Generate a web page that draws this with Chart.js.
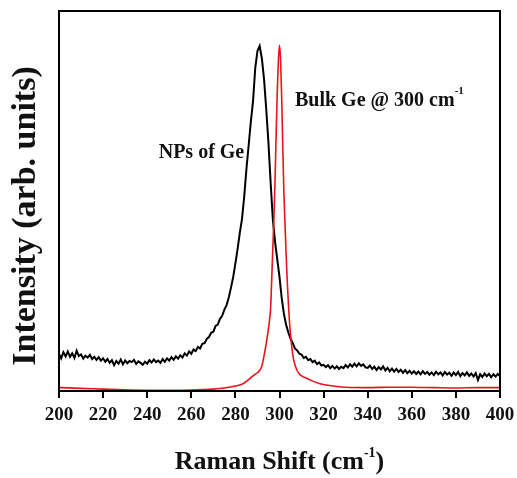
<!DOCTYPE html>
<html>
<head>
<meta charset="utf-8">
<script src="https://cdn.jsdelivr.net/npm/chart.js@4.4.1/dist/chart.umd.min.js"></script>
<style>
  html, body { margin: 0; padding: 0; background: #fff; }
  canvas { display: block; }
</style>
</head>
<body>
<canvas id="ramanChart" width="517" height="478"></canvas>
<script>
const xTicks = [200, 220, 240, 260, 280, 300, 320, 340, 360, 380, 400];

// NPs of Ge (black), read every 1 cm-1
const npShift = [
  200, 201, 202, 203, 204, 205, 206, 207, 208, 209, 210, 211, 212, 213, 214, 215, 216, 217, 218, 219,
  220, 221, 222, 223, 224, 225, 226, 227, 228, 229, 230, 231, 232, 233, 234, 235, 236, 237, 238, 239,
  240, 241, 242, 243, 244, 245, 246, 247, 248, 249, 250, 251, 252, 253, 254, 255, 256, 257, 258, 259,
  260, 261, 262, 263, 264, 265, 266, 267, 268, 269, 270, 271, 272, 273, 274, 275, 276, 277, 278, 279,
  280, 281, 282, 283, 284, 285, 286, 287, 288, 289, 290, 291, 292, 293, 294, 295, 296, 297, 298, 299,
  300, 301, 302, 303, 304, 305, 306, 307, 308, 309, 310, 311, 312, 313, 314, 315, 316, 317, 318, 319,
  320, 321, 322, 323, 324, 325, 326, 327, 328, 329, 330, 331, 332, 333, 334, 335, 336, 337, 338, 339,
  340, 341, 342, 343, 344, 345, 346, 347, 348, 349, 350, 351, 352, 353, 354, 355, 356, 357, 358, 359,
  360, 361, 362, 363, 364, 365, 366, 367, 368, 369, 370, 371, 372, 373, 374, 375, 376, 377, 378, 379,
  380, 381, 382, 383, 384, 385, 386, 387, 388, 389, 390, 391, 392, 393, 394, 395, 396, 397, 398, 399,
  400
];
const npIntensity = [
  9.8, 8.6, 10.2, 9.1, 10.4, 9.0, 9.9, 8.7, 10.6, 9.2, 9.6, 8.5, 9.3, 8.8, 9.5, 8.4, 9.0, 8.2, 8.9, 8.0,
  8.6, 7.7, 8.4, 7.4, 8.1, 6.8, 7.9, 7.2, 8.3, 7.0, 8.0, 7.3, 7.9, 7.6, 8.2, 7.1, 7.8, 7.4, 6.9, 7.7,
  7.2, 8.1, 7.5, 8.3, 7.6, 8.0, 7.4, 8.4, 7.7, 8.6, 8.0, 8.9, 8.2, 9.1, 8.5, 9.4, 8.8, 9.9, 9.3, 10.4,
  9.8, 10.9, 10.5, 11.6, 11.2, 12.4, 12.6, 13.7, 14.2, 15.3, 15.6, 17.1, 17.5, 19.0, 19.8, 21.4, 22.6, 24.6, 27.2, 30.0,
  33.6, 37.4, 41.6, 45.3, 51.2, 58.4, 64.6, 70.8, 76.3, 85.0, 89.5, 90.8, 87.5, 82.0, 74.0, 65.2, 54.6, 45.0, 39.2, 34.6,
  30.0, 24.5, 20.3, 17.4, 15.4, 13.8, 12.6, 11.2, 10.7, 9.8, 9.6, 8.7, 9.0, 8.1, 8.4, 7.6, 8.0, 7.1, 7.5, 6.7,
  6.9, 6.3, 6.8, 6.0, 6.6, 5.9, 6.5, 5.8, 6.4, 6.0, 6.8, 6.2, 7.0, 6.4, 7.2, 6.5, 7.3, 6.6, 7.0, 6.2,
  6.1, 6.7, 5.8, 6.4, 5.5, 6.3, 5.7, 6.5, 5.4, 6.1, 5.2, 5.9, 5.1, 5.8, 5.0, 5.6, 4.8, 5.5, 4.7, 5.3,
  4.6, 5.2, 4.5, 5.1, 4.4, 5.2, 4.5, 5.0, 4.3, 4.9, 4.2, 5.1, 4.4, 4.9, 4.1, 5.0, 4.3, 4.8, 4.0, 4.9,
  4.2, 5.0, 3.9, 4.7, 4.1, 4.9, 4.0, 4.6, 3.8, 4.7, 2.9, 4.4, 3.7, 4.6, 3.9, 4.5, 3.6, 4.4, 3.8, 4.5,
  3.9
];

// Bulk Ge (red)
const bulkShift = [
  200, 210, 220, 230, 240, 250, 260, 265, 270, 275, 280, 282, 284, 286, 288, 290, 291, 292, 293, 294,
  295, 295.5, 296, 296.5, 297, 297.5, 298, 298.5, 299, 299.5, 300, 300.5, 301, 301.5, 302, 302.5, 303, 303.5, 304, 304.5,
  305, 305.5, 306, 307, 308, 309, 310, 312, 315, 318, 322, 326, 330, 340, 350, 360, 370, 380, 390, 400
];
const bulkIntensity = [
  0.9, 0.7, 0.5, 0.3, 0.2, 0.2, 0.25, 0.35, 0.5, 0.8, 1.3, 1.6, 2.1, 3.0, 4.0, 4.8, 5.4, 6.6, 9.3, 12.6,
  16.5, 18.8, 22, 30, 38, 46, 56, 68, 79, 87, 91, 87, 77, 64, 52, 44, 36, 29, 23.5, 18.5,
  14.8, 12, 9.6, 6.9, 5.4, 4.5, 4.0, 3.4, 2.6, 2.0, 1.5, 1.2, 1.0, 0.9, 1.0, 1.0, 0.9, 0.8, 0.9, 0.9
];

const serif = "'Liberation Serif', 'Times New Roman', serif";

function toPoints(xs, ys) {
  return xs.map((x, i) => ({ x: x, y: ys[i] }));
}

// text with a superscript part, e.g. "cm" + "-1"
function drawSup(c, parts, x, y, align) {
  let total = 0;
  parts.forEach(p => { c.font = p.font; total += c.measureText(p.text).width; });
  let cx = align === 'center' ? x - total / 2 : (align === 'right' ? x - total : x);
  parts.forEach(p => {
    c.font = p.font;
    c.fillText(p.text, cx, y + (p.dy || 0));
    cx += c.measureText(p.text).width;
  });
}

const framePlugin = {
  id: 'frame',
  afterDraw(chart) {
    const c = chart.ctx;
    const a = chart.chartArea;
    const xs = chart.scales.x;
    const ys = chart.scales.y;
    c.save();
    c.strokeStyle = '#000';
    c.lineWidth = 2;
    c.strokeRect(a.left, a.top, a.right - a.left, a.bottom - a.top);

    c.fillStyle = '#111';
    c.textBaseline = 'alphabetic';
    c.textAlign = 'left';

    // x title
    drawSup(c, [
      { text: 'Raman Shift (cm', font: 'bold 26px ' + serif },
      { text: '-1', font: 'bold 14px ' + serif, dy: -12 },
      { text: ')', font: 'bold 26px ' + serif }
    ], (a.left + a.right) / 2, 469, 'center');

    // y title
    c.save();
    c.translate(35, 216);
    c.rotate(-Math.PI / 2);
    c.font = 'bold 34px ' + serif;
    c.textAlign = 'center';
    c.fillText('Intensity (arb. units)', 0, 0);
    c.restore();

    // annotations
    drawSup(c, [
      { text: 'Bulk Ge @ 300 cm', font: 'bold 20px ' + serif },
      { text: '-1', font: 'bold 11px ' + serif, dy: -12 }
    ], xs.getPixelForValue(307), ys.getPixelForValue(75), 'left');
    drawSup(c, [
      { text: 'NPs of Ge', font: 'bold 20px ' + serif }
    ], xs.getPixelForValue(284), ys.getPixelForValue(61.2), 'right');
    c.restore();
  }
};

const ctx = document.getElementById('ramanChart').getContext('2d');
const ramanChart = new Chart(ctx, {
  type: 'line',
  data: {
    datasets: [{
      label: 'NPs of Ge',
      data: toPoints(npShift, npIntensity),
      borderColor: '#000',
      borderWidth: 2,
      pointRadius: 0,
      tension: 0,
      order: 2
    }, {
      label: 'Bulk Ge',
      data: toPoints(bulkShift, bulkIntensity),
      borderColor: '#e8141c',
      borderWidth: 1.6,
      pointRadius: 0,
      cubicInterpolationMode: 'monotone',
      order: 1
    }]
  },
  options: {
    responsive: false,
    animation: false,
    devicePixelRatio: 1,
    layout: { padding: { left: 0, top: 11, right: 17, bottom: 0 } },
    plugins: {
      legend: { display: false },
      tooltip: { enabled: false }
    },
    scales: {
      x: {
        type: 'linear',
        min: 200,
        max: 400,
        afterBuildTicks: scale => { scale.ticks = xTicks.map(v => ({ value: v })); },
        afterFit: scale => {
          scale.height = 87;
          scale.paddingLeft = 0;
          scale.paddingRight = 0;
        },
        ticks: {
          color: '#111',
          padding: 6,
          maxRotation: 0,
          font: { family: serif, size: 19, weight: 'bold' }
        },
        grid: {
          display: true,
          drawOnChartArea: false,
          drawTicks: true,
          tickLength: 7,
          color: '#000',
          lineWidth: 2
        },
        border: { display: true, color: '#000', width: 2 }
      },
      y: {
        min: 0,
        max: 100,
        afterFit: scale => { scale.width = 59; },
        ticks: { display: false },
        grid: { display: false },
        border: { display: true, color: '#000', width: 2 }
      }
    }
  },
  plugins: [framePlugin]
});
</script>
</body>
</html>
